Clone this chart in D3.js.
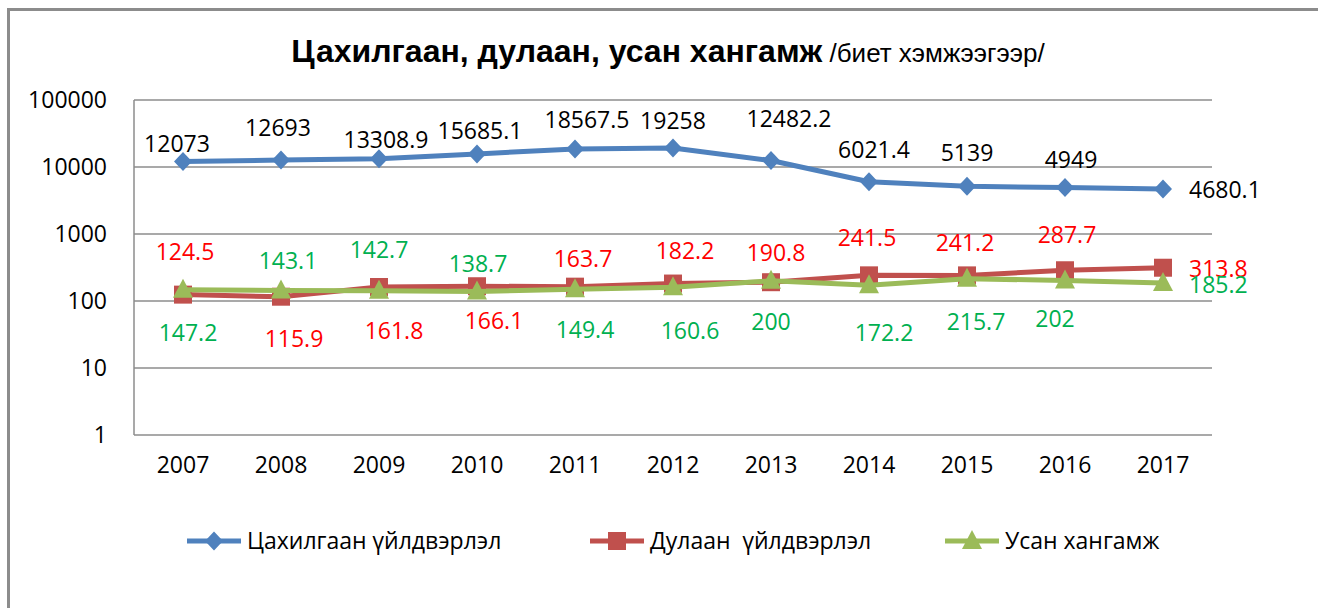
<!DOCTYPE html>
<html lang="mn">
<head>
<meta charset="utf-8">
<title>Цахилгаан, дулаан, усан хангамж</title>
<script src="https://d3js.org/d3.v7.min.js"></script>
<style>
  body { margin: 0; background: #fff; }
  .axis path, .axis line { display: none; }
  .axis text { font-family: "Open Sans", sans-serif; font-size: 23px; fill: #000; }
  .lbl { font-family: "Open Sans", sans-serif; font-size: 23px; white-space: pre; }
</style>
</head>
<body>
<script>
// years on the x axis
const years = ["2007", "2008", "2009", "2010", "2011", "2012", "2013", "2014", "2015", "2016", "2017"];

// series values
const power = [12073, 12693, 13308.9, 15685.1, 18567.5, 19258, 12482.2, 6021.4, 5139, 4949, 4680.1];
const heat = [124.5, 115.9, 161.8, 166.1, 163.7, 182.2, 190.8, 241.5, 241.2, 287.7, 313.8];
const water = [147.2, 143.1, 142.7, 138.7, 149.4, 160.6, 200, 172.2, 215.7, 202, 185.2];

// data label nudges (px from the marker), as placed in the original; last label sits to the right
const powerDx = [-6, -3, 7, 3, 12, 0, 18, 5, 0, 6, 26];
const powerDy = [-18, -32, -19, -23, -29, -27, -42, -32, -33, -28, 1];
const heatDx = [2, 13, 15, 17, 8, 12, 5, -2, -2, 2, 26];
const heatDy = [-43, 42, 44, 35, -28, -33, -29, -37, -32, -35, 1];
const waterDx = [5, 7, 0, 1, 10, 17, 0, 15, 9, -10, 26];
const waterDy = [43, -30, -41, -28, 41, 44, 41, 48, 43, 38, 2];

const yTicks = [1, 10, 100, 1000, 10000, 100000];
const seriesNames = ["Цахилгаан үйлдвэрлэл", "Дулаан  үйлдвэрлэл", "Усан хангамж"];

var w = 1318, h = 608;
var plotLeft = 134, plotRight = 1212, plotTop = 100, plotBottom = 435;

var svg = d3.select("body").append("svg")
  .attr("width", w).attr("height", h);

// outer frame (continues past the picture edge)
svg.append("rect")
  .attr("x", 8.5).attr("y", 9.5)
  .attr("width", 1400).attr("height", 700)
  .attr("fill", "none").attr("stroke", "#8c8c8c").attr("stroke-width", 3);

// title
var title = svg.append("text")
  .attr("x", 668).attr("y", 62)
  .attr("text-anchor", "middle")
  .attr("font-family", "Liberation Sans, Arial, sans-serif");
title.append("tspan").attr("font-weight", "bold").attr("font-size", 32)
  .text("Цахилгаан, дулаан, усан хангамж");
title.append("tspan").attr("font-size", 26).text(" /биет хэмжээгээр/");

var x = d3.scaleBand().domain(years).range([plotLeft, plotRight]);
var y = d3.scaleLog().domain([1, 100000]).range([plotBottom, plotTop]);

// gridlines
svg.append("g").selectAll("line")
  .data(yTicks).enter().append("line")
  .attr("x1", plotLeft).attr("x2", plotRight)
  .attr("y1", function (d) { return y(d); })
  .attr("y2", function (d) { return y(d); })
  .attr("stroke", "#8c8c8c").attr("stroke-width", 1.5);

svg.append("line")
  .attr("x1", plotLeft).attr("x2", plotLeft)
  .attr("y1", plotTop).attr("y2", plotBottom)
  .attr("stroke", "#8c8c8c").attr("stroke-width", 1.5);

// axes
var yAxis = d3.axisLeft(y).tickValues(yTicks).tickFormat(d3.format("d")).tickSize(0).tickPadding(27);
svg.append("g").attr("class", "axis")
  .attr("transform", "translate(" + plotLeft + ",0)")
  .call(yAxis);

var xAxis = d3.axisBottom(x).tickSize(0).tickPadding(22);
svg.append("g").attr("class", "axis")
  .attr("transform", "translate(0," + plotBottom + ")")
  .call(xAxis);

var cx = function (d, i) { return x(years[i]) + x.bandwidth() / 2; };
var line = d3.line()
  .x(function (d, i) { return x(years[i]) + x.bandwidth() / 2; })
  .y(function (d) { return y(d); });

var series = [
  { name: seriesNames[0], values: power, dx: powerDx, dy: powerDy, color: "#4F81BD", lblColor: "#000000", shape: "diamond" },
  { name: seriesNames[1], values: heat, dx: heatDx, dy: heatDy, color: "#C0504D", lblColor: "#FF0000", shape: "square" },
  { name: seriesNames[2], values: water, dx: waterDx, dy: waterDy, color: "#9BBB59", lblColor: "#00B050", shape: "triangle" }
];

function markerPath(shape) {
  if (shape === "diamond") return "M0,-9.5L9,0L0,9.5L-9,0Z";
  if (shape === "square") return "M-9,-9H9V9H-9Z";
  return "M0,-11L10,8H-10Z";
}

series.forEach(function (s) {
  var g = svg.append("g");
  g.append("path")
    .datum(s.values)
    .attr("d", line)
    .attr("fill", "none")
    .attr("stroke", s.color)
    .attr("stroke-width", 5)
    .attr("stroke-linejoin", "round");

  g.selectAll("path.mk")
    .data(s.values).enter().append("path")
    .attr("class", "mk")
    .attr("transform", function (d, i) { return "translate(" + cx(d, i) + "," + y(d) + ")"; })
    .attr("d", markerPath(s.shape))
    .attr("fill", s.color);
});

// data labels drawn on top
series.forEach(function (s) {
  var last = s.values.length - 1;
  svg.append("g").selectAll("text")
    .data(s.values).enter().append("text")
    .attr("class", "lbl")
    .attr("fill", s.lblColor)
    .attr("x", function (d, i) { return cx(d, i) + s.dx[i]; })
    .attr("y", function (d, i) { return y(d) + s.dy[i]; })
    .attr("dy", "0.35em")
    .attr("text-anchor", function (d, i) { return i === last ? "start" : "middle"; })
    .text(function (d) { return d; });
});

// legend
var legendX = [187, 590, 945];
var legend = svg.append("g");
series.forEach(function (s, k) {
  var lg = legend.append("g").attr("transform", "translate(" + legendX[k] + ",541)");
  lg.append("line").attr("x1", 0).attr("x2", 54).attr("y1", 0).attr("y2", 0)
    .attr("stroke", s.color).attr("stroke-width", 5);
  lg.append("path").attr("transform", "translate(27,0)").attr("d", markerPath(s.shape)).attr("fill", s.color);
  lg.append("text").attr("class", "lbl").attr("x", 60).attr("dy", "0.35em")
    .attr("fill", "#000").attr("font-size", 22).text(s.name);
});
</script>
</body>
</html>
